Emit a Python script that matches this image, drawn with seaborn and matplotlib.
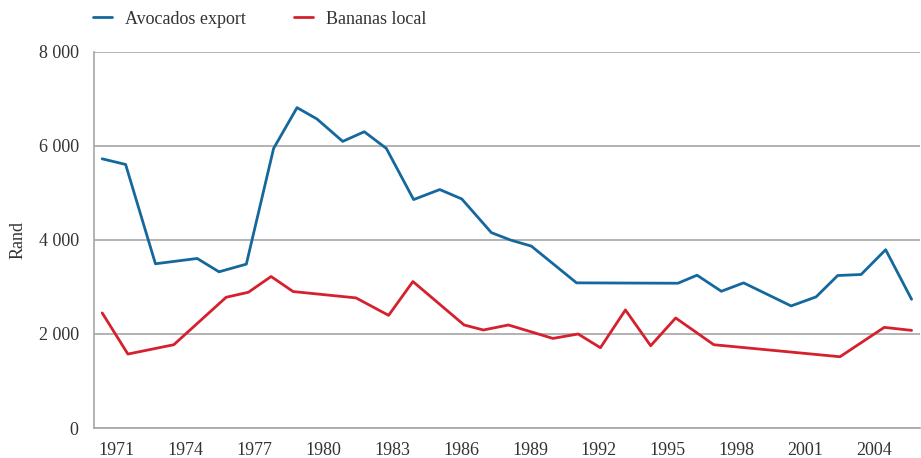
import numpy as np
import pandas as pd
import matplotlib
matplotlib.use('Agg')
import matplotlib.pyplot as plt
import seaborn as sns

# values (x in fractional years)
avocado_years = [1970.36, 1971.38, 1972.68, 1974.5, 1975.45, 1976.64, 1977.83, 1978.85,
                 1979.72, 1980.84, 1981.78, 1982.74, 1983.93, 1985.07, 1986.03, 1987.32,
                 1988.16, 1989.06, 1991.03, 1995.45, 1996.28, 1997.34, 1998.31, 2000.38,
                 2001.47, 2002.41, 2003.43, 2004.5, 2005.63]
avocado_rand = [5727, 5607, 3494, 3607, 3323, 3486, 5949, 6816,
                6574, 6098, 6303, 5949, 4860, 5073, 4873, 4156,
                3998, 3870, 3088, 3080, 3251, 2909, 3088, 2597,
                2790, 3244, 3266, 3793, 2738]

banana_years = [1970.36, 1971.48, 1973.48, 1975.76, 1976.73, 1977.72, 1978.68, 1981.42,
                1982.84, 1983.9, 1986.13, 1986.97, 1988.06, 1990.0, 1991.1, 1992.07,
                1993.16, 1994.26, 1995.35, 1997.01, 2002.51, 2004.44, 2005.63]
banana_rand = [2448, 1573, 1772, 2781, 2888, 3223, 2903, 2768,
               2397, 3116, 2192, 2085, 2192, 1906, 2000, 1708,
               2512, 1750, 2341, 1772, 1516, 2141, 2077]

tick_years = list(range(1971, 2005, 3))

df = pd.concat([
    pd.DataFrame({'year': avocado_years, 'rand': avocado_rand, 'series': 'Avocados export'}),
    pd.DataFrame({'year': banana_years, 'rand': banana_rand, 'series': 'Bananas local'}),
])

sns.set_style('white')
plt.rcParams['font.family'] = ['Liberation Serif', 'DejaVu Serif']

fig = plt.figure(figsize=(9.21, 4.58), dpi=100)
ax = fig.add_axes([0.102, 0.0655, 0.897, 0.821])

sns.lineplot(data=df, x='year', y='rand', hue='series', sort=False,
             palette={'Avocados export': '#14689e', 'Bananas local': '#d5202e'},
             linewidth=2, ax=ax)

gray = '#a6a6a6'
ax.set_xlim(1970, 2006)
ax.set_ylim(0, 8000)
ax.set_yticks([0, 2000, 4000, 6000, 8000])
ax.set_yticklabels(['0', '2 000', '4 000', '6 000', '8 000'])
ax.set_xticks(tick_years)
ax.set_xticklabels([str(y) for y in tick_years])
ax.set_xticks(range(1970, 2007), minor=True)
ax.yaxis.grid(True, color=gray, linewidth=1.2)
ax.set_axisbelow(True)
for s in ['top', 'right']:
    ax.spines[s].set_visible(False)
for s in ['left', 'bottom']:
    ax.spines[s].set_color(gray)
    ax.spines[s].set_linewidth(1.2)
ax.tick_params(axis='both', which='both', colors=gray, labelcolor='#333333',
               labelsize=13, length=7, width=1.2, direction='out')
ax.tick_params(axis='x', which='both', length=8, pad=2)
ax.tick_params(axis='y', pad=4)
ax.set_xlabel('')
ax.set_ylabel('Rand', fontsize=13, color='#333333', labelpad=9)

ax.legend(loc='center left', bbox_to_anchor=(86 / 921, 1 - 19 / 458),
          bbox_transform=fig.transFigure, ncol=2, frameon=False,
          fontsize=13, handlelength=1.05, handletextpad=0.7, columnspacing=2.7,
          borderaxespad=0, labelcolor='#333333')

fig.savefig('out.png', dpi=100)
